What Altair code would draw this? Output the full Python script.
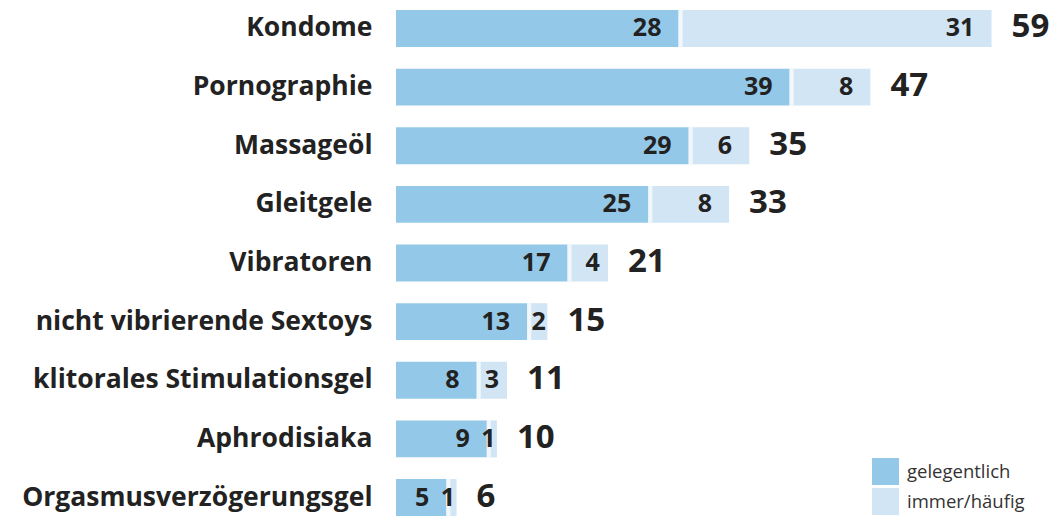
import altair as alt
import pandas as pd

categories = ["Kondome", "Pornographie", "Massageöl", "Gleitgele", "Vibratoren",
              "nicht vibrierende Sextoys", "klitorales Stimulationsgel",
              "Aphrodisiaka", "Orgasmusverzögerungsgel"]
gelegentlich = [28, 39, 29, 25, 17, 13, 8, 9, 5]
immer = [31, 8, 6, 8, 4, 2, 3, 1, 1]
totals = [59, 47, 35, 33, 21, 15, 11, 10, 6]
series = ["gelegentlich", "immer/häufig"]
colors = ["#93c8e8", "#d2e5f4"]

rows = []
for c, g, i in zip(categories, gelegentlich, immer):
    rows.append({"cat": c, "series": series[0], "value": g, "start": 0, "end": g})
    rows.append({"cat": c, "series": series[1], "value": i, "start": g, "end": g + i})
df = pd.DataFrame(rows)
tdf = pd.DataFrame({"cat": categories, "total": totals, "gel": gelegentlich})

FONT = "Open Sans"
y = alt.Y("cat:N", sort=categories,
          scale=alt.Scale(paddingInner=0.37, paddingOuter=0),
          axis=alt.Axis(title=None, domain=False, ticks=False, labelPadding=24,
                        labelFont=FONT, labelFontSize=26.5, labelFontWeight="bold",
                        labelColor="#222", labelLimit=400))
xs = alt.Scale(domain=[0, 64.1], nice=False, zero=True)

bars = alt.Chart(df).mark_bar().encode(
    y=y,
    x=alt.X("start:Q", scale=xs, axis=None),
    x2="end:Q",
    color=alt.Color("series:N", scale=alt.Scale(domain=series, range=colors),
                    legend=alt.Legend(title=None, orient="none", legendX=476, legendY=448,
                                      symbolType="square", symbolSize=729,
                                      symbolStrokeWidth=0, labelFont=FONT,
                                      labelFontSize=18.5, labelColor="#333",
                                      padding=0, rowPadding=3, labelOffset=8)),
)

sep = alt.Chart(tdf).mark_tick(orient="vertical", thickness=4, size=37, color="white",
                               xOffset=2).encode(
    y=alt.Y("cat:N", sort=categories), x=alt.X("gel:Q", scale=xs)
)

labels = alt.Chart(df).transform_calculate(
    lx="datum.end - (datum.value <= 2 ? 0.15 : (datum.value <= 4 ? 0.8 : 1.7))"
).mark_text(align="right", baseline="middle", font=FONT, fontSize=25,
            fontWeight="bold", color="#222").encode(
    y=alt.Y("cat:N", sort=categories),
    x=alt.X("lx:Q", scale=xs),
    text="value:Q",
)

tot = alt.Chart(tdf).mark_text(align="left", baseline="middle", dx=20, dy=-1, font=FONT,
                               fontSize=33, fontWeight="bold", color="#222").encode(
    y=alt.Y("cat:N", sort=categories),
    x=alt.X("total:Q", scale=xs),
    text="total:Q",
)

chart = alt.layer(bars, sep, labels, tot).properties(
    width=647, height=506,
    autosize=alt.AutoSizeParams(type="none"),
    padding={"left": 388, "top": 2, "right": 8, "bottom": 0},
).configure_view(stroke=None)

chart.save("out.html", embed_options={"renderer": "svg", "actions": False})
